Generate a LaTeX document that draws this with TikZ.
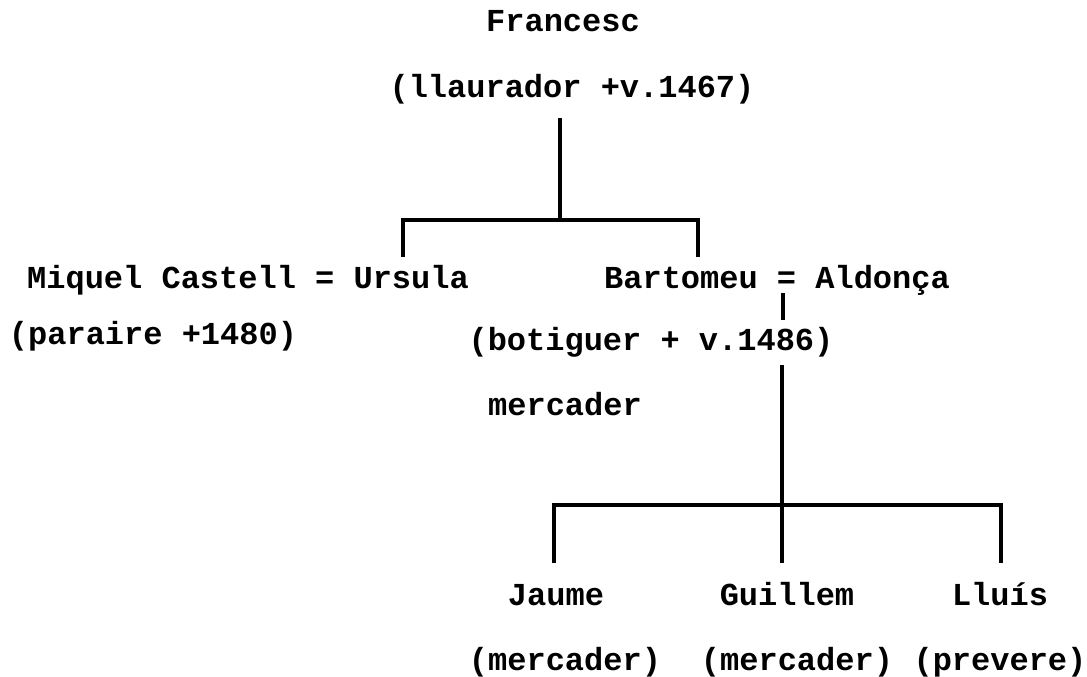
\documentclass[tikz,border=0pt]{standalone}
\usepackage{fontspec}
\setmonofont{Liberation Mono}
\begin{document}
\begin{tikzpicture}[x=1pt,y=-1pt,line width=3.4pt]
      \tikzstyle{person}=[inner sep=0pt,anchor=base,font=\fontsize{32}{36}\selectfont\ttfamily\bfseries]
      \useasboundingbox (0,0) rectangle (1087,677);

      \node[person] (francesc) at (563,32) {Francesc};
      \node[person] (fjob) at (572,97) {(llaurador +v.1467)};

      \node[person] (ursula) at (248,288) {Miquel Castell = Ursula};
      \node[person] (ujob) at (153,344) {(paraire +1480)};
      \node[person] (bartomeu) at (777,288) {Bartomeu = Aldonça};
      \node[person] (bjob) at (651,350) {(botiguer + v.1486)};
      \node[person] (bjob2) at (565,415) {mercader};

      \node[person] (jaume) at (556,605) {Jaume};
      \node[person] (guillem) at (787,605) {Guillem};
      \node[person] (lluis) at (1000,605) {Lluís};
      \node[person] (jjob) at (565,670) {(mercader)};
      \node[person] (gjob) at (797,670) {(mercader)};
      \node[person] (ljob) at (1000,670) {(prevere)};

      \coordinate (f0) at (560,118);
      \coordinate (f1) at (560,220);
      \coordinate (u0) at (403,220);
      \coordinate (u1) at (403,257);
      \coordinate (b0) at (698,220);
      \coordinate (b1) at (698,257);
      \coordinate (m0) at (783,293);
      \coordinate (m1) at (783,320);
      \coordinate (c0) at (782,365);
      \coordinate (c1) at (782,505);
      \coordinate (j0) at (554,505);
      \coordinate (j1) at (554,563);
      \coordinate (g1) at (782,563);
      \coordinate (l0) at (1001,505);
      \coordinate (l1) at (1001,563);

      \draw (f0) -- (f1);
      \draw (u1) -- (u0) -- (b0) -- (b1);
      \draw (m0) -- (m1);
      \draw (c0) -- (c1);
      \draw (j1) -- (j0) -- (l0) -- (l1);
      \draw (c1) -- (g1);
    \end{tikzpicture}
\end{document}
